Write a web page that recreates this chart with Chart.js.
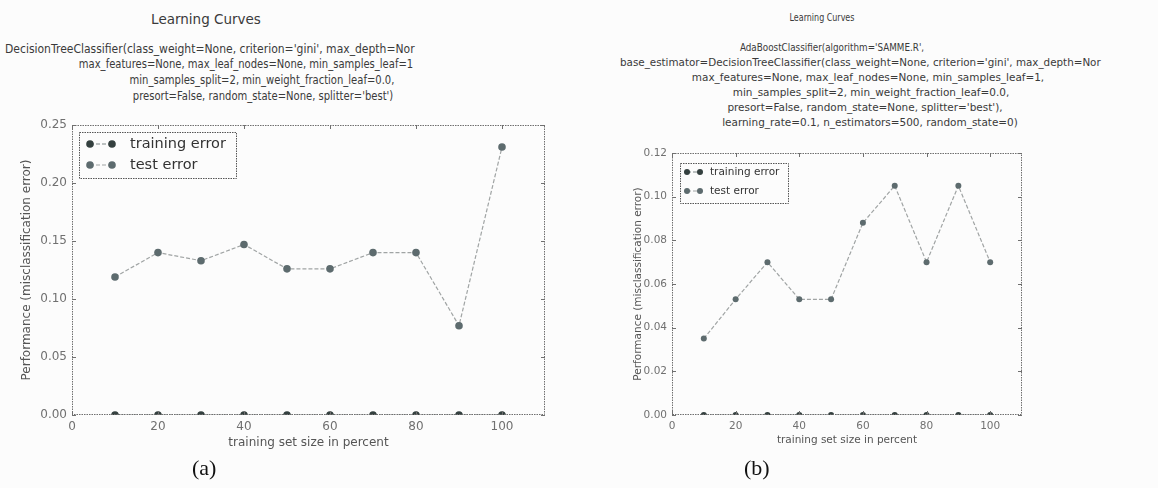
<!DOCTYPE html>
<html>
<head>
<meta charset="utf-8">
<script src="https://cdn.jsdelivr.net/npm/chart.js@4.4.1/dist/chart.umd.min.js"></script>
<style>
  html, body { margin: 0; padding: 0; background: #fcfcfc; }
  body { width: 1158px; height: 488px; position: relative; overflow: hidden; font-family: "DejaVu Sans", sans-serif; color: #3a3a3a; }
  .t { position: absolute; white-space: nowrap; line-height: 1; }
  .c { text-align: center; width: 800px; transform-origin: 400px 50%; }
  .l { transform-origin: 0 50%; }
  .cap { position: absolute; font-family: "Liberation Serif", "DejaVu Serif", serif; font-size: 22px; color: #111; }
  #wrapA { position: absolute; left: 0; top: 100px; width: 590px; height: 360px; }
  #wrapB { position: absolute; left: 600px; top: 130px; width: 558px; height: 330px; }
</style>
</head>
<body>
<!-- titles (a) -->
<div class="t c" style="left:-194px;top:13px;font-size:13.5px;">Learning Curves</div>
<div class="t l" style="left:5px;top:42px;font-size:13px;transform:scaleX(0.83);">DecisionTreeClassifier(class_weight=None, criterion='gini', max_depth=Nor</div>
<div class="t c" style="left:-154px;top:57px;font-size:13px;transform:scaleX(0.77);">max_features=None, max_leaf_nodes=None, min_samples_leaf=1</div>
<div class="t c" style="left:-138px;top:73px;font-size:13px;transform:scaleX(0.77);">min_samples_split=2, min_weight_fraction_leaf=0.0,</div>
<div class="t c" style="left:-137px;top:89px;font-size:13px;transform:scaleX(0.77);">presort=False, random_state=None, splitter='best')</div>
<!-- titles (b) -->
<div class="t c" style="left:422px;top:12px;font-size:10.5px;transform:scaleX(0.76);">Learning Curves</div>
<div class="t c" style="left:432px;top:42px;font-size:11px;transform:scaleX(0.8);">AdaBoostClassifier(algorithm='SAMME.R',</div>
<div class="t l" style="left:620px;top:57px;font-size:11px;transform:scaleX(0.94);">base_estimator=DecisionTreeClassifier(class_weight=None, criterion='gini', max_depth=Nor</div>
<div class="t c" style="left:468px;top:72px;font-size:11px;transform:scaleX(0.95);">max_features=None, max_leaf_nodes=None, min_samples_leaf=1,</div>
<div class="t c" style="left:471px;top:87px;font-size:11px;transform:scaleX(0.95);">min_samples_split=2, min_weight_fraction_leaf=0.0,</div>
<div class="t c" style="left:465px;top:102px;font-size:11px;transform:scaleX(0.95);">presort=False, random_state=None, splitter='best'),</div>
<div class="t c" style="left:470px;top:117px;font-size:11px;transform:scaleX(0.95);">learning_rate=0.1, n_estimators=500, random_state=0)</div>

<div id="wrapA"><canvas id="chartA"></canvas></div>
<div id="wrapB"><canvas id="chartB"></canvas></div>

<div class="cap" style="left:192px;top:455px;">(a)</div>
<div class="cap" style="left:744px;top:455px;">(b)</div>

<script>
// training set size (percent)
const sizes = [10, 20, 30, 40, 50, 60, 70, 80, 90, 100];
// (a) DecisionTreeClassifier
const trainErrA = [0, 0, 0, 0, 0, 0, 0, 0, 0, 0];
const testErrA = [0.119, 0.140, 0.133, 0.147, 0.126, 0.126, 0.140, 0.140, 0.077, 0.231];
// (b) AdaBoostClassifier
const trainErrB = [0, 0, 0, 0, 0, 0, 0, 0, 0, 0];
const testErrB = [0.035, 0.053, 0.070, 0.053, 0.053, 0.088, 0.105, 0.070, 0.105, 0.070];
// axis ticks
const xTicks = [0, 20, 40, 60, 80, 100];
const yTicksA = [0, 0.05, 0.10, 0.15, 0.20, 0.25];
const yTicksB = [0, 0.02, 0.04, 0.06, 0.08, 0.10, 0.12];

const pts = (ys) => sizes.map((x, i) => ({ x: x, y: ys[i] }));

// frame + inward ticks + boxed legend drawn inside the axes
const mplAxes = {
  id: 'mplAxes',
  afterDatasetsDraw(chart, args, opts) {
    const ctx = chart.ctx;
    const a = chart.chartArea;
    const xs = chart.scales.x, ys = chart.scales.y;
    ctx.save();
    ctx.strokeStyle = '#6f6f6f';
    ctx.lineWidth = 1;
    ctx.setLineDash([1.5, 1]);
    ctx.strokeRect(a.left + 0.5, a.top + 0.5, a.right - a.left - 1, a.bottom - a.top - 1);
    ctx.setLineDash([]);
    ctx.beginPath();
    xs.ticks.forEach(t => {
      const px = Math.round(xs.getPixelForValue(t.value)) + 0.5;
      ctx.moveTo(px, a.bottom); ctx.lineTo(px, a.bottom - opts.tick);
      ctx.moveTo(px, a.top); ctx.lineTo(px, a.top + opts.tick);
    });
    ys.ticks.forEach(t => {
      const py = Math.round(ys.getPixelForValue(t.value)) + 0.5;
      ctx.moveTo(a.left, py); ctx.lineTo(a.left + opts.tick, py);
      ctx.moveTo(a.right, py); ctx.lineTo(a.right - opts.tick, py);
    });
    ctx.stroke();

    // legend box
    const L = opts.legend;
    const bx = a.left + L.dx, by = a.top + L.dy;
    ctx.fillStyle = '#fcfcfc';
    ctx.fillRect(bx, by, L.w, L.h);
    ctx.strokeStyle = '#555';
    ctx.setLineDash([1.5, 1]);
    ctx.strokeRect(bx + 0.5, by + 0.5, L.w, L.h);
    ctx.setLineDash([]);
    ctx.font = L.size + 'px "DejaVu Sans", sans-serif';
    ctx.textBaseline = 'middle';
    chart.data.datasets.forEach((ds, i) => {
      const ry = by + L.row0 + i * L.rowGap;
      const x1 = bx + L.m1, x2 = bx + L.m2;
      ctx.strokeStyle = ds.borderColor;
      ctx.lineWidth = 1;
      ctx.setLineDash(ds.borderDash || []);
      ctx.beginPath(); ctx.moveTo(x1, ry); ctx.lineTo(x2, ry); ctx.stroke();
      ctx.setLineDash([]);
      ctx.fillStyle = ds.pointBackgroundColor;
      [x1, x2].forEach(px => { ctx.beginPath(); ctx.arc(px, ry, ds.pointRadius, 0, Math.PI * 2); ctx.fill(); });
      ctx.fillStyle = '#333';
      ctx.fillText(ds.label, bx + L.tx, ry);
    });
    ctx.restore();
  }
};

function makeChart(id, train, test, yTicks, yMax, cfg) {
  const font = { family: '"DejaVu Sans", sans-serif', size: cfg.fs };
  return new Chart(document.getElementById(id), {
    type: 'line',
    data: {
      datasets: [
        {
          label: 'training error', data: pts(train),
          borderColor: '#7d8686', borderWidth: 1, borderDash: [4, 2],
          pointBackgroundColor: '#34403f', pointBorderWidth: 0, pointRadius: cfg.r
        },
        {
          label: 'test error', data: pts(test),
          borderColor: '#a0a4a4', borderWidth: 1.2, borderDash: [4, 2],
          pointBackgroundColor: '#5d6b6e', pointBorderWidth: 0, pointRadius: cfg.r
        }
      ]
    },
    options: {
      responsive: true,
      maintainAspectRatio: false,
      animation: false,
      layout: { padding: { left: 0, top: cfg.padTop, right: cfg.padRight, bottom: 0 } },
      plugins: {
        legend: { display: false },
        tooltip: { enabled: false },
        mplAxes: { tick: 4, legend: cfg.legend }
      },
      scales: {
        x: {
          type: 'linear', min: 0, max: 110,
          afterBuildTicks: (s) => { s.ticks = xTicks.map(v => ({ value: v })); },
          afterFit: (s) => { s.height = cfg.xh; },
          grid: { display: false, drawTicks: false },
          border: { display: false },
          ticks: { font: font, color: '#707070', padding: cfg.xpad },
          title: { display: true, text: 'training set size in percent', font: font, color: '#555', padding: { top: 0, bottom: cfg.xtp } }
        },
        y: {
          type: 'linear', min: 0, max: yMax,
          afterBuildTicks: (s) => { s.ticks = yTicks.map(v => ({ value: v })); },
          afterFit: (s) => { s.width = cfg.yw; },
          grid: { display: false, drawTicks: false },
          border: { display: false },
          ticks: { font: font, color: '#707070', padding: cfg.ypad, callback: (v) => v.toFixed(2) },
          title: { display: true, text: 'Performance (misclassification error)', font: font, color: '#555', padding: { top: cfg.ytp, bottom: 0 } }
        }
      }
    },
    plugins: [mplAxes]
  });
}

makeChart('chartA', trainErrA, testErrA, yTicksA, 0.25, {
  fs: 12, r: 3.8, padTop: 25, padRight: 45, xh: 45, yw: 72, xpad: 5, xtp: 10, ypad: 5, ytp: 20,
  legend: { dx: 7, dy: 7, w: 157, h: 46, row0: 12, rowGap: 21, m1: 11, m2: 33, tx: 51, size: 14.5 }
});
makeChart('chartB', trainErrB, testErrB, yTicksB, 0.12, {
  fs: 10.5, r: 3, padTop: 23, padRight: 136, xh: 45, yw: 72, xpad: 5, xtp: 13, ypad: 5, ytp: 32,
  legend: { dx: 8, dy: 10, w: 108, h: 40, row0: 9, rowGap: 19, m1: 7, m2: 20, tx: 30, size: 10.5 }
});
</script>
</body>
</html>
